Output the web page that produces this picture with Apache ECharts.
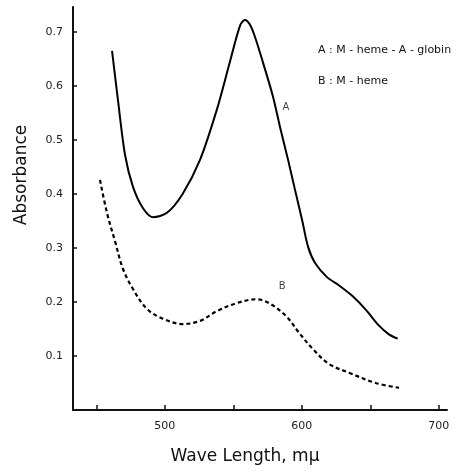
<!DOCTYPE html>
<html>
<head>
<meta charset="utf-8">
<script src="https://cdn.jsdelivr.net/npm/echarts@6/dist/echarts.min.js"></script>
<style>
html,body{margin:0;padding:0;background:#fff;}
#chart{width:472px;height:476px;}
</style>
</head>
<body>
<div id="chart"></div>
<script>
// Curve A: M-heme-A-globin (solid)
const wavelengthA = [461.5, 465.8, 471, 476.8, 484, 491.4, 501.6, 513, 525.7, 538, 547.6, 555, 558.5, 562, 565.8, 571.7, 579, 584.1, 590, 595.1, 600.2, 604.6, 609.7, 618.4, 627, 637, 647, 656, 663.6, 670];
const absorbanceA = [0.665, 0.574, 0.472, 0.413, 0.374, 0.357, 0.365, 0.40, 0.463, 0.556, 0.645, 0.712, 0.722, 0.714, 0.691, 0.643, 0.580, 0.524, 0.463, 0.407, 0.352, 0.302, 0.272, 0.246, 0.231, 0.211, 0.185, 0.157, 0.140, 0.132];
// Curve B: M-heme (dashed)
const wavelengthB = [452.7, 457.8, 463.6, 469.5, 476.8, 487, 498.7, 513, 525.7, 538, 552.7, 566.6, 576, 588.5, 598, 608, 620, 634.5, 654, 671];
const absorbanceB = [0.426, 0.365, 0.313, 0.261, 0.224, 0.187, 0.169, 0.159, 0.165, 0.183, 0.198, 0.205, 0.198, 0.174, 0.143, 0.113, 0.085, 0.069, 0.05, 0.041];
const xTicks = [450, 500, 550, 600, 650, 700];
const xTickLabels = [500, 600, 700];
const yTicks = [0.1, 0.2, 0.3, 0.4, 0.5, 0.6, 0.7];
const curveLabels = [
  {name: 'A', x: 588.5, y: 0.561},
  {name: 'B', x: 585.6, y: 0.228}
];
const legendLines = ['A : M - heme - A - globin', 'B : M - heme'];

const chart = echarts.init(document.getElementById('chart'));
const font = 'DejaVu Sans';
chart.setOption({
  backgroundColor: '#fff',
  animation: false,
  grid: {left: 73, right: 25, top: 7, bottom: 66},
  xAxis: {
    type: 'value', min: 433, max: 706,
    splitLine: {show: false},
    axisLine: {lineStyle: {color: '#111', width: 2}},
    axisTick: {inside: true, length: 5, lineStyle: {color: '#111', width: 1.5}, customValues: xTicks},
    axisLabel: {customValues: xTickLabels, color: '#222', fontFamily: font, fontSize: 11, margin: 11}
  },
  yAxis: {
    type: 'value', min: 0, max: 0.746,
    splitLine: {show: false},
    axisLine: {show: true, lineStyle: {color: '#111', width: 2}},
    axisTick: {show: true, inside: true, length: 4, lineStyle: {color: '#111', width: 1.5}, customValues: yTicks},
    axisLabel: {customValues: yTicks, color: '#222', fontFamily: font, fontSize: 11, margin: 10,
      formatter: v => v.toFixed(1)}
  },
  series: [
    {
      type: 'line', name: 'A', smooth: 0.3, symbol: 'none',
      lineStyle: {color: '#000', width: 2},
      data: wavelengthA.map((x, i) => [x, absorbanceA[i]])
    },
    {
      type: 'line', name: 'B', smooth: 0.35, symbol: 'none',
      lineStyle: {color: '#000', width: 2.2, type: [4, 3]},
      data: wavelengthB.map((x, i) => [x, absorbanceB[i]])
    },
    {
      type: 'scatter', symbolSize: 0,
      label: {show: true, position: 'inside', formatter: p => p.name, color: '#111', fontFamily: font, fontSize: 10},
      data: curveLabels.map(d => ({name: d.name, value: [d.x, d.y]}))
    }
  ],
  graphic: [
    {type: 'text', left: 318, top: 45, style: {text: legendLines[0], fill: '#111', font: '500 11px "DejaVu Sans"'}},
    {type: 'text', left: 318, top: 76, style: {text: legendLines[1], fill: '#111', font: '500 11px "DejaVu Sans"'}},
    {type: 'text', x: 22, y: 175, rotation: Math.PI / 2, style: {text: 'Absorbance', fill: '#111', font: '17px "DejaVu Sans"', align: 'center', verticalAlign: 'middle'}},
    {type: 'text', x: 245, y: 457, style: {text: 'Wave Length, mμ', fill: '#111', font: '17px "DejaVu Sans"', align: 'center', verticalAlign: 'middle'}}
  ]
});
</script>
</body>
</html>
